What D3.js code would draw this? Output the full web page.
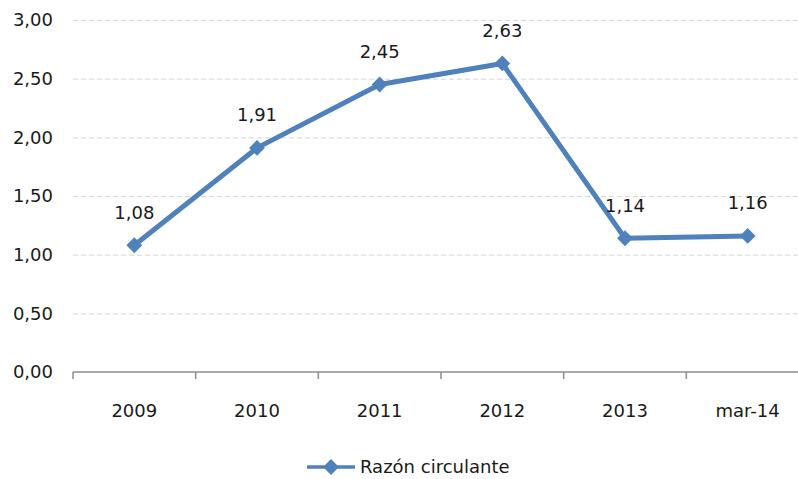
<!DOCTYPE html>
<html>
<head>
<meta charset="utf-8">
<script src="https://cdn.jsdelivr.net/npm/d3@7"></script>
<style>
  body { margin: 0; background: #fff; }
  text { font-family: "DejaVu Sans", Verdana, sans-serif; fill: #1a1a1a; }
</style>
</head>
<body>
<div class="root"></div>
<script>
var categories = ["2009", "2010", "2011", "2012", "2013", "mar-14"];
var values = [1.08, 1.91, 2.45, 2.63, 1.14, 1.16];
var yTicks = [0, 0.5, 1, 1.5, 2, 2.5, 3];
var seriesName = "Razón circulante";

var width = 798, height = 479;
var plotLeft = 73, plotRight = 809, plotTop = 20, plotBottom = 372;
var blue = "#4f81bd";

var svg = d3.select('.root')
            .append('svg')
            .attr("width", width)
            .attr("height", height);

var x = d3.scaleBand().domain(categories).range([plotLeft, plotRight]);
var y = d3.scaleLinear().domain([0, 3]).range([plotBottom, plotTop]);
var fmt = function (v) { return d3.format(".2f")(v).replace(".", ","); };

// gridlines
svg.append('g')
   .selectAll('line')
   .data(yTicks.filter(function (d) { return d > 0; }))
   .enter()
   .append('line')
   .attr("x1", plotLeft).attr("x2", width)
   .attr("y1", function (d) { return y(d) + 0.5; })
   .attr("y2", function (d) { return y(d) + 0.5; })
   .attr("stroke", "#d4d4d4")
   .attr("stroke-width", 1)
   .attr("stroke-dasharray", "5,3");

// y labels
svg.append('g')
   .selectAll('text')
   .data(yTicks)
   .enter()
   .append('text')
   .attr("x", 53)
   .attr("y", function (d) { return y(d); })
   .attr("dy", "0.36em")
   .attr("text-anchor", "end")
   .style("font-size", "18px")
   .text(fmt);

// x axis
svg.append('line')
   .attr("x1", plotLeft).attr("x2", width)
   .attr("y1", plotBottom).attr("y2", plotBottom)
   .attr("stroke", "#8c8c8c").attr("stroke-width", 1.5);
svg.append('g')
   .selectAll('line')
   .data(categories)
   .enter()
   .append('line')
   .attr("x1", function (d) { return x(d); })
   .attr("x2", function (d) { return x(d); })
   .attr("y1", plotBottom).attr("y2", plotBottom + 7)
   .attr("stroke", "#8c8c8c").attr("stroke-width", 1.5);

svg.append('g')
   .selectAll('text')
   .data(categories)
   .enter()
   .append('text')
   .attr("x", function (d) { return x(d) + x.bandwidth() / 2; })
   .attr("y", 411)
   .attr("dy", "0.36em")
   .attr("text-anchor", "middle")
   .style("font-size", "18px")
   .text(function (d) { return d; });

// series
var pts = categories.map(function (c, i) { return { c: c, v: values[i] }; });
var line = d3.line()
             .x(function (d) { return x(d.c) + x.bandwidth() / 2; })
             .y(function (d) { return y(d.v); });

svg.append('path')
   .datum(pts)
   .attr("d", line)
   .attr("fill", "none")
   .attr("stroke", blue)
   .attr("stroke-width", 5)
   .attr("stroke-linejoin", "round");

var diamond = d3.symbol().type(d3.symbolDiamond2).size(160);

svg.append('g')
   .selectAll('path')
   .data(pts)
   .enter()
   .append('path')
   .attr("d", diamond)
   .attr("transform", function (d) {
     return "translate(" + (x(d.c) + x.bandwidth() / 2) + "," + y(d.v) + ")";
   })
   .attr("fill", blue);

svg.append('g')
   .selectAll('text')
   .data(pts)
   .enter()
   .append('text')
   .attr("x", function (d) { return x(d.c) + x.bandwidth() / 2; })
   .attr("y", function (d) { return y(d.v) - 33; })
   .attr("dy", "0.36em")
   .attr("text-anchor", "middle")
   .style("font-size", "18px")
   .text(function (d) { return fmt(d.v); });

// legend
var lg = svg.append('g').attr("transform", "translate(307,467)");
lg.append('line').attr("x1", 0).attr("x2", 48).attr("y1", 0).attr("y2", 0)
  .attr("stroke", blue).attr("stroke-width", 3.5);
lg.append('path').attr("d", diamond).attr("transform", "translate(24,0)").attr("fill", blue);
lg.append('text').attr("x", 53).attr("y", 0).attr("dy", "0.36em")
  .style("font-size", "18px").text(seriesName);
</script>
</body>
</html>
